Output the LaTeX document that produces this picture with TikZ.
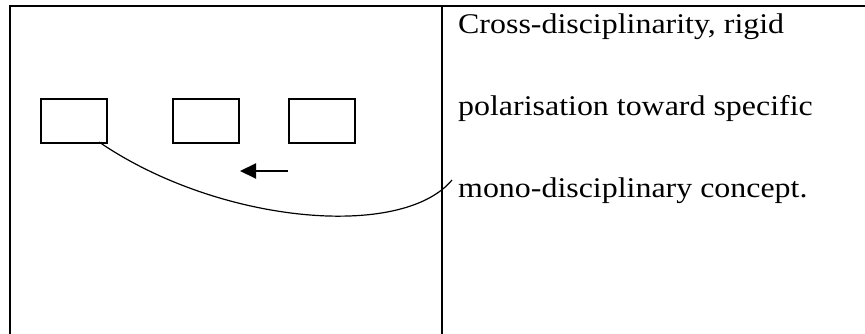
\documentclass[tikz,border=0pt]{standalone}
\usepackage{fontspec}
\usetikzlibrary{arrows.meta}
\newfontfamily\bodyserif[FakeStretch=1.12]{Liberation Serif}
\begin{document}
\begin{tikzpicture}[x=1pt,y=-1pt,
  rule/.style={line width=2pt},
  cellbox/.style={draw,line width=2pt,rectangle,minimum width=66.5pt,minimum height=43.5pt,inner sep=0pt,outer sep=0pt},
  shift arrow/.style={line width=2pt,-{Triangle[length=16pt,width=15pt]}},
  link/.style={line width=1.2pt},
  cell text/.style={anchor=base west,inner sep=0pt,font=\bodyserif\fontsize{28.5}{34}\selectfont}]
  \useasboundingbox (0,0) rectangle (865,334);

  % table rules
  \coordinate (tl) at (10.3,5.7);
  \coordinate (tr) at (865,5.7);
  \coordinate (bl) at (10.3,334);
  \coordinate (dt) at (442,5.7);
  \coordinate (db) at (442,334);
  \draw[rule] (bl) -- (tl) -- (tr);
  \draw[rule] (dt) -- (db);

  % three blocks
  \node[cellbox] (b1) at (73.75,121) {};
  \node[cellbox] (b2) at (205.75,121) {};
  \node[cellbox] (b3) at (321.9,121) {};

  % leftward shift arrow
  \coordinate (a1) at (288,171);
  \coordinate (a2) at (240,171);
  \draw[shift arrow] (a1) -- (a2);

  % curved link into the text column
  \coordinate (cs) at (99,142);
  \coordinate (ce) at (452,180);
  \draw[link] (cs) .. controls (219,224) and (402,240) .. (ce);

  % text column
  \node[cell text] (t1) at (458,33.3) {Cross-disciplinarity, rigid};
  \node[cell text] (t2) at (458,115.3) {polarisation toward specific};
  \node[cell text] (t3) at (458,197.3) {mono-disciplinary concept.};
\end{tikzpicture}
\end{document}
